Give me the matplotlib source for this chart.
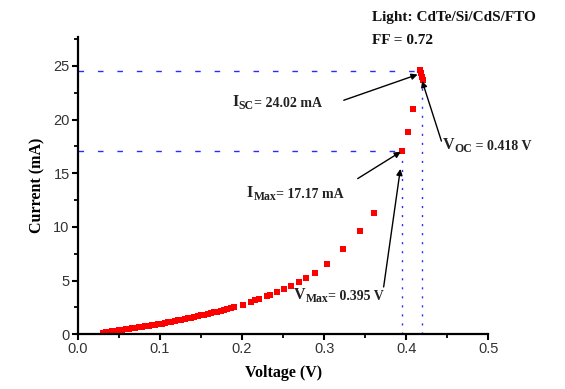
import numpy as np
import matplotlib
matplotlib.use("Agg")
import matplotlib.pyplot as plt
from matplotlib.ticker import MultipleLocator

# I-V data of the CdTe/Si/CdS/FTO cell under light
voltage = [0.030, 0.034, 0.038, 0.042, 0.046, 0.050, 0.054, 0.058, 0.062, 0.066,
           0.070, 0.074, 0.078, 0.082, 0.086, 0.090, 0.094, 0.098, 0.102, 0.106,
           0.110, 0.114, 0.118, 0.122, 0.126, 0.130, 0.134, 0.138, 0.142, 0.146,
           0.150, 0.154, 0.158, 0.162, 0.166, 0.170, 0.174, 0.178, 0.182, 0.186,
           0.190, 0.201, 0.211, 0.216, 0.221, 0.231, 0.234, 0.243, 0.2515, 0.2595,
           0.2696, 0.2777, 0.2887, 0.304, 0.3236, 0.3435, 0.361, 0.3954, 0.4022,
           0.4084, 0.417, 0.418, 0.419, 0.420]
current = [0.15, 0.19, 0.23, 0.27, 0.31, 0.35, 0.39, 0.44, 0.48, 0.53,
           0.58, 0.63, 0.68, 0.73, 0.78, 0.83, 0.88, 0.94, 0.99, 1.05,
           1.10, 1.16, 1.23, 1.29, 1.35, 1.42, 1.48, 1.55, 1.61, 1.68,
           1.75, 1.82, 1.89, 1.96, 2.03, 2.10, 2.18, 2.26, 2.34, 2.42,
           2.50, 2.75, 2.98, 3.17, 3.32, 3.54, 3.63, 3.93, 4.20, 4.50,
           4.88, 5.19, 5.72, 6.55, 7.92, 9.57, 11.3, 17.08, 18.8,
           20.97, 24.6, 24.3, 24.0, 23.7]

isc = 24.02
voc = 0.418
i_max = 17.17
v_max = 0.395
ff = 0.72

serif = dict(family='Liberation Serif', weight='bold')

fig = plt.figure(figsize=(5.65, 3.89), dpi=100)
ax = fig.add_axes([0.138, 0.141, 0.726, 0.764])


def sub_label(x, y, main, sub, rest):
    # big symbol, lowered subscript, then the value, chained one after another
    t1 = ax.text(x, y, main, fontsize=11.5, va='bottom', color='#222222', **serif)
    t2 = ax.annotate(sub, xy=(1, 0), xycoords=t1, xytext=(0.3, -1.5),
                     textcoords='offset points', va='bottom', fontsize=8.5,
                     color='#222222', **serif)
    ax.annotate(rest, xy=(1, 0), xycoords=(t2, t1), va='bottom', fontsize=10,
                color='#222222', **serif)


# guide lines to Isc/Voc and Imax/Vmax
blue = '#2b2bff'
ax.plot([0, 0.417], [24.5, 24.5], color=blue, lw=1.0, dashes=(4, 10))
ax.plot([0, v_max], [17.08, 17.08], color=blue, lw=1.0, dashes=(4, 10))
ax.plot([0.3954, 0.3954], [0, 16.8], color=blue, lw=1.0, dashes=(1.5, 5))
ax.plot([0.4197, 0.4197], [0, 23.2], color=blue, lw=1.0, dashes=(1.5, 5))

ax.plot(voltage, current, 's', color='red', markersize=3.7, markeredgewidth=0)

arrow = dict(arrowstyle='-|>', color='black', lw=1.0, mutation_scale=9,
             shrinkA=0, shrinkB=0)
ax.annotate('', xy=(0.414, 24.2), xytext=(0.324, 21.8), arrowprops=arrow)
ax.annotate('', xy=(0.4195, 23.6), xytext=(0.443, 18.0), arrowprops=arrow)
ax.annotate('', xy=(0.3935, 17.0), xytext=(0.341, 14.5), arrowprops=arrow)
ax.annotate('', xy=(0.393, 15.4), xytext=(0.3726, 4.4), arrowprops=arrow)

sub_label(0.188, 20.9, 'I', 'SC', f'= {isc:.2f} mA')
sub_label(0.4447, 16.9, 'V', 'OC', f' = {voc:.3f} V')
sub_label(0.206, 12.4, 'I', 'Max', f'= {i_max:.2f} mA')
sub_label(0.263, 2.9, 'V', 'Max', f'= {v_max:.3f} V')

fig.text(372 / 565, 1 - 18 / 389, 'Light: CdTe/Si/CdS/FTO', va='center',
         fontsize=11, color='#111111', **serif)
fig.text(372 / 565, 1 - 40 / 389, f'FF = {ff}', va='center',
         fontsize=11, color='#111111', **serif)

ax.set_xlim(0, 0.5)
ax.set_ylim(0, 27.7)
ax.xaxis.set_major_locator(MultipleLocator(0.1))
ax.xaxis.set_minor_locator(MultipleLocator(0.05))
ax.yaxis.set_major_locator(MultipleLocator(5))
ax.yaxis.set_minor_locator(MultipleLocator(2.5))
ax.xaxis.set_major_formatter(plt.FuncFormatter(lambda v, p: f'{v:.1f}'))

for s in ['top', 'right']:
    ax.spines[s].set_visible(False)
for s in ['left', 'bottom']:
    ax.spines[s].set_linewidth(1.6)
ax.tick_params(which='major', length=4, width=1.5, labelsize=10.5,
               labelcolor='#333333', pad=2)
ax.tick_params(which='minor', length=3, width=1.3)
for lab in ax.get_xticklabels() + ax.get_yticklabels():
    lab.set_family('Liberation Sans')

ax.set_xlabel('Voltage (V)', fontsize=11.5, labelpad=6, **serif)
ax.set_ylabel('Current (mA)', fontsize=11.5, labelpad=6, **serif)

fig.savefig('out.png', dpi=100)
